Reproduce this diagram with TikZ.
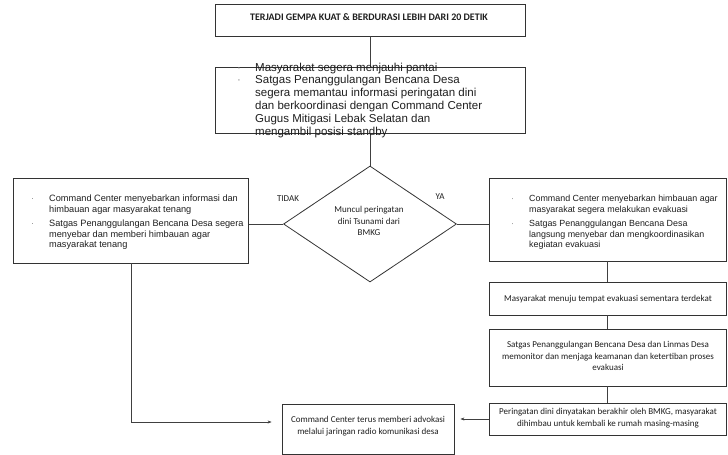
\documentclass[tikz,border=0pt]{standalone}
\usepackage{fontspec}
\setmainfont{Liberation Sans}
\newfontfamily\calfont{Carlito}
\usetikzlibrary{arrows.meta,shapes.geometric,calc}
\newcommand{\bul}{\makebox[18pt][l]{\textcolor{black!45}{·}}}
\newcommand{\nob}{\makebox[18pt][l]{}}
\begin{document}
\begin{tikzpicture}[x=1pt,y=-1pt,
  box/.style={draw=black!80, line width=0.8pt, inner sep=0pt, rectangle},
  dia/.style={draw=black!80, line width=0.8pt, inner sep=0pt, diamond},
  conn/.style={draw=black!75, line width=0.7pt},
  arr/.style={conn, -{Stealth[length=4pt,width=3pt]}},
  txt/.style={text=black!88, inner sep=0pt},
  cal/.style={txt, font=\calfont\fontsize{9}{11.5}\selectfont, align=center},
  arial/.style={txt, anchor=base west},
  big/.style={txt, font=\fontsize{11.5}{12.8}\selectfont, anchor=base west}]
\useasboundingbox (0,0) rectangle (728,455);
\fill[white] (0,0) rectangle (728,455);

% boxes
\node[box, minimum width=310pt, minimum height=32pt] (top) at (370,20) {};
\node[box, minimum width=310pt, minimum height=66pt] (b2) at (370,100) {};
\node[dia, minimum width=173pt, minimum height=116pt] (d) at (370,224) {};
\node[box, minimum width=235pt, minimum height=85pt] (lb) at (131,220.5) {};
\node[box, minimum width=237pt, minimum height=83pt] (rb) at (607.5,219.5) {};
\node[box, minimum width=237pt, minimum height=33pt] (m1) at (607.5,298.5) {};
\node[box, minimum width=237pt, minimum height=57pt] (m2) at (607.5,357.5) {};
\node[box, minimum width=237pt, minimum height=32pt] (m3) at (607.5,419) {};
\node[box, minimum width=172pt, minimum height=50pt] (cc) at (368,429) {};

% connectors
\draw[conn] (top.south) -- (b2.north);
\draw[conn] (b2.south) -- (d.north);
\draw[conn] (d.west) -- (d.west -| lb.east);
\draw[conn] (d.east) -- (d.east -| rb.west);
\draw[conn] (rb.south) -- (m1.north);
\draw[conn] (m1.south) -- (m2.north);
\draw[conn] (m2.south) -- (m3.north);
\draw[arr, shorten >=10pt] (lb.south) |- ($(cc.west)+(0,-7)$);
\draw[arr, shorten >=6pt] (m3.west) -- (m3.west -| cc.east);

% texts
\node[txt, font=\calfont\bfseries\fontsize{10}{12}\selectfont] (ttop) at (369,17) {TERJADI GEMPA KUAT \& BERDURASI LEBIH DARI 20 DETIK};

\node[big] (tb2) at (237,71) {\begin{tabular}[t]{@{}l@{}l@{}}
\bul & Masyarakat segera menjauhi pantai\\
\bul & Satgas Penanggulangan Bencana Desa\\
\nob & segera memantau informasi peringatan dini\\
\nob & dan berkoordinasi dengan Command Center\\
\nob & Gugus Mitigasi Lebak Selatan dan\\
\nob & mengambil posisi standby
\end{tabular}};

\node[arial, font=\fontsize{9.2}{10.6}\selectfont] (tlb) at (31,201.5) {\begin{tabular}[t]{@{}l@{}l@{}}
\bul & Command Center menyebarkan informasi dan\\
\nob & himbauan agar masyarakat tenang\\[4pt]
\bul & Satgas Penanggulangan Bencana Desa segera\\
\nob & menyebar dan memberi himbauan agar\\
\nob & masyarakat tenang
\end{tabular}};

\node[arial, font=\fontsize{8.9}{10.5}\selectfont] (trb) at (511,201.5) {\begin{tabular}[t]{@{}l@{}l@{}}
\bul & Command Center menyebarkan himbauan agar\\
\nob & masyarakat segera melakukan evakuasi\\[4pt]
\bul & Satgas Penanggulangan Bencana Desa\\
\nob & langsung menyebar dan mengkoordinasikan\\
\nob & kegiatan evakuasi
\end{tabular}};

\node[cal] (td) at (369,221) {Muncul peringatan\\dini Tsunami dari\\BMKG};
\node[cal] (tidak) at (288,199) {TIDAK};
\node[cal] (ya) at (440,197) {YA};
\node[cal] (tm1) at (608,299) {Masyarakat menuju tempat evakuasi sementara terdekat};
\node[cal] (tm2) at (608,356) {Satgas Penanggulangan Bencana Desa dan Linmas Desa\\memonitor dan menjaga keamanan dan ketertiban proses\\evakuasi};
\node[cal] (tm3) at (608,418) {Peringatan dini dinyatakan berakhir oleh BMKG, masyarakat\\dihimbau untuk kembali ke rumah masing-masing};
\node[cal] (tcc) at (368,426) {Command Center terus memberi advokasi\\melalui jaringan radio komunikasi desa};
\end{tikzpicture}
\end{document}
